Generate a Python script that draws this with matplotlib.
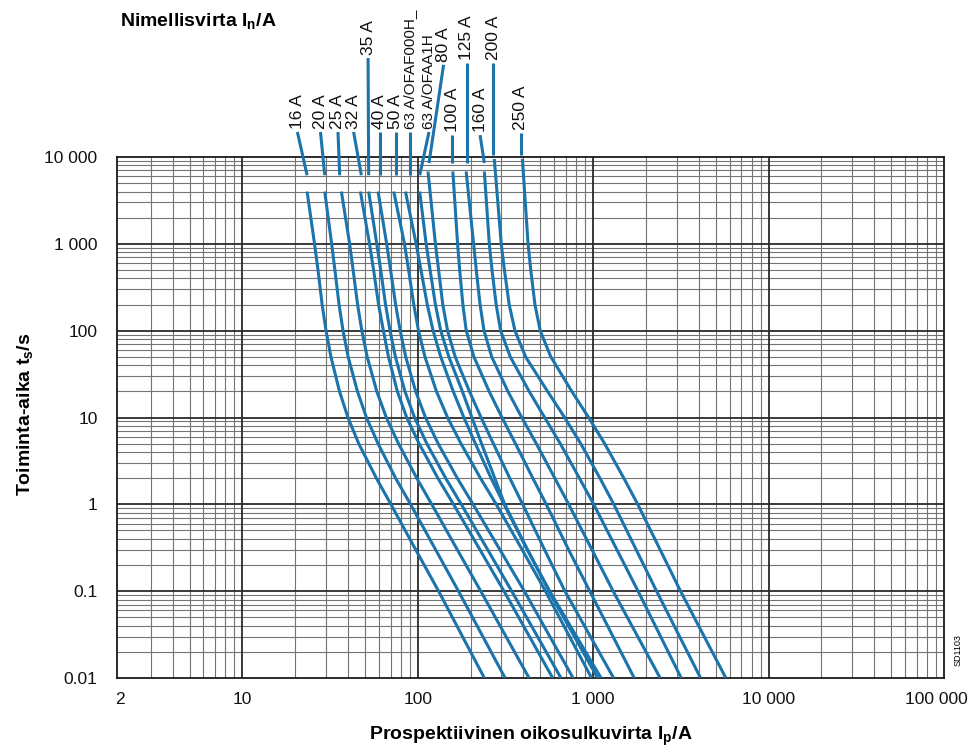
import matplotlib
matplotlib.use("Agg")
import matplotlib.pyplot as plt
from matplotlib import transforms
from matplotlib.ticker import NullLocator

plt.rcParams['font.family'] = ['Liberation Sans', 'DejaVu Sans']
plt.rcParams['mathtext.fontset'] = 'custom'
plt.rcParams['mathtext.rm'] = 'Liberation Sans'
plt.rcParams['mathtext.bf'] = 'Liberation Sans:bold'
plt.rcParams['mathtext.it'] = 'Liberation Sans:italic'

BLUE = '#1b74ab'

# ---------------- data ----------------
labels = ['16 A', '20 A', '25 A', '32 A', '35 A', '40 A', '50 A',
          '63 A/OFAF000H_', '63 A/OFAA1H', '80 A', '100 A', '125 A',
          '160 A', '200 A', '250 A']

# operating time levels (s); the first point of each curve uses start_time
times = [1000, 500, 200, 100, 50, 20, 10, 5, 2, 1, 0.3, 0.1, 0.01]
start_time = [4000, 4000, 4000, 4000, 4000, 4000, 4000, 4000, 4000,
              6800, 6800, 6800, 6800, 9500, 9500]

# prospective current (A) at start_time, then at each of `times`
i_16 = [23.4, 25.8, 27.0, 28.5, 30.0, 32.0, 35.8, 40.0, 46.1, 58.1, 70.3, 97.4, 131.5, 239.7]
i_20 = [29.5, 32.3, 33.7, 35.6, 37.5, 40.1, 45.3, 51.0, 59.4, 74.8, 91.0, 126.5, 170.7, 314.8]
i_25 = [36.7, 40.9, 42.8, 45.4, 48.0, 51.5, 58.4, 66.2, 77.7, 98.7, 120.2, 168.1, 228.7, 431.1]
i_32 = [47.1, 53.1, 56.0, 59.8, 63.7, 68.1, 76.5, 86.5, 101.8, 130.3, 159.9, 226.3, 310.3, 588.0]
i_35 = [52.5, 58.4, 61.5, 65.5, 69.5, 74.6, 84.5, 95.9, 112.7, 144.3, 177.1, 250.5, 343.5, 655.3]
i_40 = [59.4, 66.5, 70.0, 74.8, 79.4, 85.4, 97.3, 110.7, 130.7, 168.1, 206.8, 294.1, 405.4, 768.3]
i_50 = [73.0, 84.0, 88.7, 94.9, 101.0, 109.9, 127.8, 147.9, 176.4, 227.8, 280.3, 394.0, 534.6, 979.3]
i_63f = [85.1, 97.9, 104.3, 113.3, 122.3, 135.2, 159.3, 183.2, 213.1, 261.9, 310.3, 421.1, 565.5, 1109]
i_63h = [102.6, 111.6, 117.6, 126.1, 135.2, 150.4, 179.6, 203.6, 231.1, 274.8, 313.1, 422.7, 559.6, 1060]
i_80 = [114.4, 126.1, 131.5, 138.9, 147.9, 163.5, 197.1, 229.6, 269.9, 334.7, 396.5, 528.4, 690.4, 1308]
i_100 = [158.5, 168.7, 173.4, 180.8, 189.0, 209.0, 255.2, 302.3, 360.5, 453.0, 540.2, 724.5, 956.6, 1714]
i_125 = [188.8, 208.2, 215.6, 226.6, 238.7, 264.0, 326.5, 391.9, 474.2, 604.4, 725.5, 984.5, 1300, 2409]
i_160 = [239.7, 255.8, 265.0, 279.9, 296.8, 336.9, 431.6, 529.1, 649.3, 835.2, 1007, 1366, 1803, 3177]
i_200 = [273.1, 299.2, 311.9, 332.1, 358.2, 411.8, 549.5, 687.7, 849.5, 1093, 1312, 1759, 2299, 4097]
i_250 = [395.0, 425.5, 440.8, 465.6, 498.9, 573.6, 755.4, 941.8, 1163, 1496, 1796, 2409, 3148, 5707]

currents = [i_16, i_20, i_25, i_32, i_35, i_40, i_50, i_63f, i_63h,
            i_80, i_100, i_125, i_160, i_200, i_250]

# label leader lines: x in A, y as a fraction of the axes height
lead_x_top = [20.6, 27.9, 35.1, 43.1, 52.1, 60.7, 74.9, 90.0, 115.9,
              140.4, 157.3, 190.3, 226.6, 269.6, 385.8]
lead_x_bot = [23.4, 29.5, 35.9, 47.7, 52.5, 60.7, 74.9, 90.0, 102.6,
              115.9, 157.3, 190.3, 239.7, 269.6, 385.8]
lead_y_top = [1.048, 1.048, 1.048, 1.048, 1.190, 1.048, 1.048, 1.048, 1.048,
              1.177, 1.042, 1.180, 1.042, 1.180, 1.046]
lead_y_bot = [0.965, 0.965, 0.965, 0.965, 0.965, 0.965, 0.965, 0.965, 0.965,
              0.9885, 0.9885, 0.9885, 0.9885, 1.004, 1.004]
label_size = [12.5] * 7 + [11, 11] + [12.5] * 6

x_ticks = [2, 10, 100, 1000, 10000, 100000]
x_ticklabels = ['2', '10', '100', '1 000', '10 000', '100 000']
y_ticks = [0.01, 0.1, 1, 10, 100, 1000, 10000]
y_ticklabels = ['0.01', '0.1', '1', '10', '100', '1 000', '10 000']

# ---------------- figure ----------------
fig = plt.figure(figsize=(9.73, 7.49), dpi=100)
ax = fig.add_axes([117 / 973, 71 / 749, 827 / 973, 521 / 749])
ax.set_xscale('log')
ax.set_yscale('log')
ax.set_xlim(1.93, 100000)
ax.set_ylim(0.01, 10000)

# grid
for d in range(0, 5):
    for k in range(2, 10):
        v = k * 10 ** d
        if v <= 2:
            continue
        ax.axvline(v, color='#747474', lw=0.8, zorder=1)
for d in range(-2, 4):
    for k in range(2, 10):
        ax.axhline(k * 10.0 ** d, color='#747474', lw=0.8, zorder=1)
for v in [10, 100, 1000, 10000]:
    ax.axvline(v, color='#2a2a2a', lw=1.3, zorder=1.5)
for v in [0.1, 1, 10, 100, 1000]:
    ax.axhline(v, color='#2a2a2a', lw=1.3, zorder=1.5)

# curves
for cur, t0 in zip(currents, start_time):
    ax.plot(cur, [t0] + times, color=BLUE, lw=2.2, zorder=3,
            solid_capstyle='butt', solid_joinstyle='round')

# labels with leaders
trans = transforms.blended_transform_factory(ax.transData, ax.transAxes)
for lab, xt, xb, yt, yb, fs in zip(labels, lead_x_top, lead_x_bot,
                                   lead_y_top, lead_y_bot, label_size):
    ax.plot([xt, xb], [yt, yb], transform=trans, clip_on=False,
            color=BLUE, lw=2.2, zorder=3, solid_capstyle='butt')
    ax.annotate(lab, xy=(xt, yt), xycoords=trans, xytext=(0, 2),
                textcoords='offset points', rotation=90, ha='center',
                va='bottom', fontsize=fs, color='#111111')

for s in ax.spines.values():
    s.set_color('#1a1a1a')
    s.set_linewidth(1.3)

ax.set_xticks(x_ticks)
ax.set_xticklabels(x_ticklabels)
ax.set_yticks(y_ticks)
ax.set_yticklabels(y_ticklabels)
ax.xaxis.set_minor_locator(NullLocator())
ax.yaxis.set_minor_locator(NullLocator())
ax.tick_params(axis='x', length=0, pad=10, labelsize=12.5, colors='#111111')
ax.tick_params(axis='y', length=0, pad=14, labelsize=12.5, colors='#111111')
last = ax.get_xticklabels()[-1]
last.set_transform(last.get_transform() +
                   transforms.ScaledTranslation(-0.08, 0, fig.dpi_scale_trans))

fig.text(120 / 973, 1 - 26 / 749, r'Nimellisvirta I$_\mathbf{n}$/A',
         fontsize=14, fontweight='bold', ha='left', va='baseline')
fig.text(25 / 973, 1 - 414 / 749, r'Toiminta-aika t$_\mathbf{s}$/s',
         fontsize=14, fontweight='bold', rotation=90, ha='center', va='center')
fig.text(531 / 973, 1 - 736 / 749, r'Prospektiivinen oikosulkuvirta I$_\mathbf{p}$/A',
         fontsize=14, fontweight='bold', ha='center', va='center')
fig.text(958 / 973, 1 - 650 / 749, 'SD1103', fontsize=6.5, rotation=90,
         ha='center', va='center')

fig.savefig('out.png', dpi=100)
